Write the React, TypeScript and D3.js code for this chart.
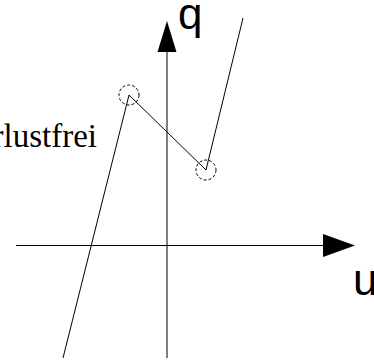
import React from "react";
import * as d3 from "d3";

// characteristic curve vertices (u, q)
const curveU = [-10.4, -3.8, 3.9, 7.6];
const curveQ = [-11.25, 15.05, 7.55, 22.75];
// marked (dashed circle) points: indices into curve
const markedIdx = [1, 2];
// axis extents
const uAxis = [-15.1, 15.6, 18.8]; // start, arrow base, tip
const qAxis = [-11.25, 19.35, 22.45];
const axisLabels = ["u", "q"];
const sideLabel = "verlustfrei";

const W = 374;
const H = 360;

export default function App() {
  const x = d3.scaleLinear().domain([-16.7, 20.7]).range([0, W]);
  const y = d3.scaleLinear().domain([-11.45, 24.55]).range([H, 0]);
  const pts: [number, number][] = curveU.map((u, i) => [x(u), y(curveQ[i])]);
  const line = d3.line();
  const ah = 9.5; // arrow half width
  const x0 = x(0);
  const y0 = y(0);
  return (
    <div style={{ position: "fixed", left: 0, top: 0 }}>
      <svg width={W} height={H} style={{ display: "block", background: "#fff" }}>
        {/* horizontal axis */}
        <line x1={x(uAxis[0])} y1={y0} x2={x(uAxis[1])} y2={y0} stroke="#000" strokeWidth={1} />
        <path
          d={`M${x(uAxis[1])},${y0 - ah - 2}L${x(uAxis[2])},${y0}L${x(uAxis[1])},${y0 + ah + 2}Z`}
          fill="#000"
        />
        {/* vertical axis */}
        <line x1={x0} y1={y(qAxis[0])} x2={x0} y2={y(qAxis[1])} stroke="#000" strokeWidth={1} />
        <path
          d={`M${x0 - ah},${y(qAxis[1])}L${x0},${y(qAxis[2])}L${x0 + ah},${y(qAxis[1])}Z`}
          fill="#000"
        />
        {/* curve */}
        <path d={line(pts) || ""} fill="none" stroke="#000" strokeWidth={1} />
        {markedIdx.map((i) => (
          <circle
            key={i}
            cx={pts[i][0]}
            cy={pts[i][1]}
            r={10}
            fill="none"
            stroke="#000"
            strokeWidth={1}
            strokeDasharray="3,2"
          />
        ))}
        <text x={353} y={295} fontFamily="Liberation Sans, Arial, sans-serif" fontSize={44}>
          {axisLabels[0]}
        </text>
        <text x={178} y={29} fontFamily="Liberation Sans, Arial, sans-serif" fontSize={44}>
          {axisLabels[1]}
        </text>
        <text
          x={97}
          y={147}
          textAnchor="end"
          fontFamily="Liberation Serif, Times New Roman, serif"
          fontSize={33}
        >
          {sideLabel}
        </text>
      </svg>
    </div>
  );
}
